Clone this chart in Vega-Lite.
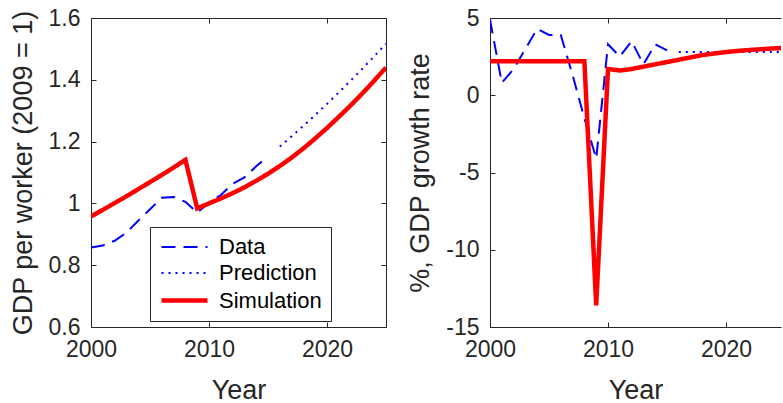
{
  "$schema": "https://vega.github.io/schema/vega-lite/v6.json",
  "padding": {"left": 9, "top": 7, "right": 0, "bottom": 0},
  "background": "#ffffff",
  "datasets": {
    "gdp": [
      {"year": 2000, "series": "Data", "level": 0.857, "growth": 4.9},
      {"year": 2001, "series": "Data", "level": 0.864, "growth": 0.8},
      {"year": 2002, "series": "Data", "level": 0.879, "growth": 1.7},
      {"year": 2003, "series": "Data", "level": 0.905, "growth": 3.0},
      {"year": 2004, "series": "Data", "level": 0.944, "growth": 4.3},
      {"year": 2005, "series": "Data", "level": 0.981, "growth": 3.9},
      {"year": 2006, "series": "Data", "level": 1.018, "growth": 3.9},
      {"year": 2007, "series": "Data", "level": 1.021, "growth": 1.3},
      {"year": 2008, "series": "Data", "level": 1.005, "growth": -1.5},
      {"year": 2009, "series": "Data", "level": 0.970, "growth": -4.1},
      {"year": 2010, "series": "Data", "level": 1.002, "growth": 3.3},
      {"year": 2011, "series": "Data", "level": 1.027, "growth": 2.5},
      {"year": 2012, "series": "Data", "level": 1.063, "growth": 3.5},
      {"year": 2013, "series": "Data", "level": 1.084, "growth": 2.0},
      {"year": 2014, "series": "Data", "level": 1.120, "growth": 3.3},
      {"year": 2015, "series": "Data", "level": 1.152, "growth": 2.9},
      {"year": 2016, "series": "Prediction", "level": 1.184, "growth": 2.8},
      {"year": 2017, "series": "Prediction", "level": 1.217, "growth": 2.8},
      {"year": 2018, "series": "Prediction", "level": 1.251, "growth": 2.8},
      {"year": 2019, "series": "Prediction", "level": 1.286, "growth": 2.8},
      {"year": 2020, "series": "Prediction", "level": 1.322, "growth": 2.8},
      {"year": 2021, "series": "Prediction", "level": 1.359, "growth": 2.8},
      {"year": 2022, "series": "Prediction", "level": 1.397, "growth": 2.8},
      {"year": 2023, "series": "Prediction", "level": 1.436, "growth": 2.8},
      {"year": 2024, "series": "Prediction", "level": 1.476, "growth": 2.8},
      {"year": 2025, "series": "Prediction", "level": 1.517, "growth": 2.8},
      {"year": 2000, "series": "Simulation", "level": 0.958, "growth": 2.2},
      {"year": 2001, "series": "Simulation", "level": 0.979, "growth": 2.2},
      {"year": 2002, "series": "Simulation", "level": 1.001, "growth": 2.2},
      {"year": 2003, "series": "Simulation", "level": 1.023, "growth": 2.2},
      {"year": 2004, "series": "Simulation", "level": 1.046, "growth": 2.2},
      {"year": 2005, "series": "Simulation", "level": 1.069, "growth": 2.2},
      {"year": 2006, "series": "Simulation", "level": 1.092, "growth": 2.2},
      {"year": 2007, "series": "Simulation", "level": 1.116, "growth": 2.2},
      {"year": 2008, "series": "Simulation", "level": 1.141, "growth": 2.2},
      {"year": 2009, "series": "Simulation", "level": 0.984, "growth": -13.6},
      {"year": 2010, "series": "Simulation", "level": 1.000, "growth": 1.7},
      {"year": 2011, "series": "Simulation", "level": 1.016, "growth": 1.6},
      {"year": 2012, "series": "Simulation", "level": 1.033, "growth": 1.7},
      {"year": 2013, "series": "Simulation", "level": 1.052, "growth": 1.85},
      {"year": 2014, "series": "Simulation", "level": 1.073, "growth": 2.0},
      {"year": 2015, "series": "Simulation", "level": 1.096, "growth": 2.15},
      {"year": 2016, "series": "Simulation", "level": 1.121, "growth": 2.3},
      {"year": 2017, "series": "Simulation", "level": 1.148, "growth": 2.45},
      {"year": 2018, "series": "Simulation", "level": 1.178, "growth": 2.6},
      {"year": 2019, "series": "Simulation", "level": 1.210, "growth": 2.7},
      {"year": 2020, "series": "Simulation", "level": 1.244, "growth": 2.8},
      {"year": 2021, "series": "Simulation", "level": 1.280, "growth": 2.87},
      {"year": 2022, "series": "Simulation", "level": 1.317, "growth": 2.93},
      {"year": 2023, "series": "Simulation", "level": 1.356, "growth": 2.98},
      {"year": 2024, "series": "Simulation", "level": 1.397, "growth": 3.03},
      {"year": 2025, "series": "Simulation", "level": 1.440, "growth": 3.07}
    ]
  },
  "data": {"name": "gdp"},
  "hconcat": [
    {
      "width": 295,
      "height": 309,
      "layer": [
        {
          "mark": {"type": "line", "clip": true},
          "encoding": {
            "x": {"field": "year", "type": "quantitative", "scale": {"domain": [2000, 2025], "nice": false, "zero": false},
                  "axis": {"values": [2000, 2010, 2020], "format": "d", "title": "Year", "titlePadding": 16}},
            "y": {"field": "level", "type": "quantitative", "scale": {"domain": [0.6, 1.6], "nice": false, "zero": false},
                  "axis": {"values": [0.6, 0.8, 1, 1.2, 1.4, 1.6], "format": "~g", "title": "GDP per worker (2009 = 1)", "titlePadding": 11}},
            "color": {"field": "series", "type": "nominal",
                      "scale": {"domain": ["Data", "Prediction", "Simulation"], "range": ["#0000ff", "#0000ff", "#ff0000"]},
                      "legend": {"title": null, "orient": "none", "legendX": 59, "legendY": 209, "symbolType": "M-2.3,0L2.3,0", "symbolSize": 400}},
            "strokeDash": {"field": "series", "type": "nominal",
                      "scale": {"domain": ["Data", "Prediction", "Simulation"], "range": [[14, 8], [2, 5], [1, 0]]},
                      "legend": {"title": null, "orient": "none", "legendX": 59, "legendY": 209, "symbolType": "M-2.3,0L2.3,0", "symbolSize": 400}},
            "strokeWidth": {"field": "series", "type": "nominal",
                      "scale": {"type": "ordinal", "domain": ["Data", "Prediction", "Simulation"], "range": [2, 2, 4.5]},
                      "legend": {"title": null, "orient": "none", "legendX": 59, "legendY": 209, "symbolType": "M-2.3,0L2.3,0", "symbolSize": 400}}
          }
        },
        {
          "mark": {"type": "point", "opacity": 0},
          "encoding": {
            "x": {"field": "year", "type": "quantitative", "axis": {"orient": "top", "values": [2000, 2010, 2020], "labels": false, "title": null}},
            "y": {"field": "level", "type": "quantitative", "axis": {"orient": "right", "values": [0.6, 0.8, 1, 1.2, 1.4, 1.6], "labels": false, "title": null}}
          }
        }
      ],
      "resolve": {"axis": {"x": "independent", "y": "independent"}}
    },
    {
      "width": 291,
      "height": 309,
      "layer": [
        {
          "mark": {"type": "line", "clip": true},
          "encoding": {
            "x": {"field": "year", "type": "quantitative", "scale": {"domain": [2000, 2024.66], "nice": false, "zero": false},
                  "axis": {"values": [2000, 2010, 2020], "format": "d", "title": "Year", "titlePadding": 16}},
            "y": {"field": "growth", "type": "quantitative", "scale": {"domain": [-15, 5], "nice": false, "zero": false},
                  "axis": {"values": [-15, -10, -5, 0, 5], "labelExpr": "'' + datum.value", "title": "%, GDP growth rate", "titlePadding": 11}},
            "color": {"field": "series", "type": "nominal",
                      "scale": {"domain": ["Data", "Prediction", "Simulation"], "range": ["#0000ff", "#0000ff", "#ff0000"]}, "legend": null},
            "strokeDash": {"field": "series", "type": "nominal",
                      "scale": {"domain": ["Data", "Prediction", "Simulation"], "range": [[14, 8], [2, 5], [1, 0]]}, "legend": null},
            "strokeWidth": {"field": "series", "type": "nominal",
                      "scale": {"type": "ordinal", "domain": ["Data", "Prediction", "Simulation"], "range": [2, 2, 4.5]}, "legend": null}
          }
        },
        {
          "mark": {"type": "point", "opacity": 0},
          "encoding": {
            "x": {"field": "year", "type": "quantitative", "axis": {"orient": "top", "values": [2000, 2010, 2020], "labels": false, "title": null}},
            "y": {"field": "growth", "type": "quantitative"}
          }
        }
      ],
      "resolve": {"axis": {"x": "independent"}}
    }
  ],
  "spacing": 104,
  "bounds": "flush",
  "resolve": {"scale": {"color": "independent", "strokeDash": "independent", "strokeWidth": "independent"}},
  "config": {
    "font": "Liberation Sans",
    "view": {"stroke": null},
    "axis": {
      "grid": false,
      "domainColor": "#262626",
      "tickColor": "#262626",
      "labelColor": "#262626",
      "titleColor": "#262626",
      "labelFontSize": 23,
      "titleFontSize": 27,
      "titleFontWeight": "normal",
      "tickSize": -5,
      "labelPadding": 16,
      "labelFlush": false,
      "domainWidth": 1,
      "tickWidth": 1
    },
    "legend": {
      "strokeColor": "#262626",
      "fillColor": "#ffffff",
      "padding": 9,
      "labelFontSize": 22,
      "labelColor": "#000000",
      "symbolOffset": 13,
      "labelOffset": 22,
      "rowPadding": 4
    }
  }
}
